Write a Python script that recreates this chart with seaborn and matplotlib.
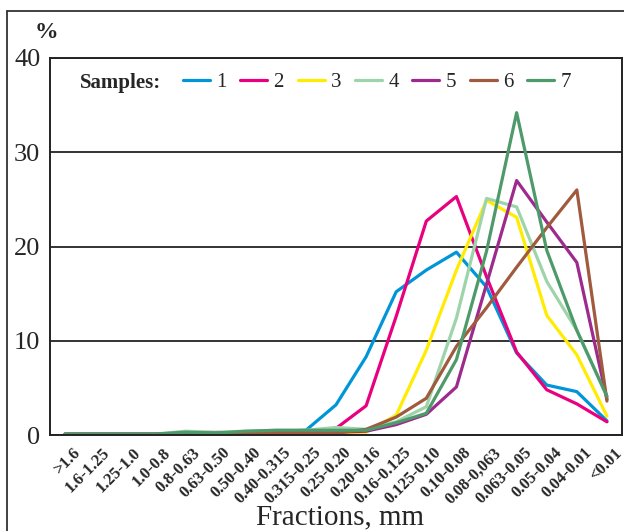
import matplotlib
matplotlib.use("Agg")
import matplotlib.pyplot as plt
from matplotlib.lines import Line2D
import matplotlib.transforms as mtransforms
import seaborn as sns
import pandas as pd
import numpy as np

categories = [">1.6", "1.6-1.25", "1.25-1.0", "1.0-0.8", "0.8-0.63", "0.63-0.50",
              "0.50-0.40", "0.40-0.315", "0.315-0.25", "0.25-0.20", "0.20-0.16",
              "0.16-0.125", "0.125-0.10", "0.10-0.08", "0.08-0,063", "0.063-0.05",
              "0.05-0.04", "0.04-0.01", "<0.01"]

s1 = [0.1, 0.1, 0.1, 0.1, 0.2, 0.2, 0.3, 0.4, 0.5, 3.2, 8.3, 15.2, 17.5, 19.4, 15.7, 8.7, 5.3, 4.6, 1.5]
s2 = [0.1, 0.1, 0.1, 0.1, 0.1, 0.1, 0.2, 0.2, 0.3, 0.7, 3.1, 12.6, 22.7, 25.3, 16.8, 8.8, 4.8, 3.3, 1.4]
s3 = [0.1, 0.1, 0.1, 0.1, 0.0, 0.0, 0.1, 0.1, 0.1, 0.2, 0.3, 2.1, 9.0, 17.5, 24.9, 23.1, 12.7, 8.5, 2.0]
s4 = [0.1, 0.1, 0.1, 0.1, 0.4, 0.3, 0.4, 0.5, 0.5, 0.8, 0.6, 1.4, 3.0, 12.4, 25.1, 24.2, 16.3, 11.1, 4.1]
s5 = [0.1, 0.1, 0.1, 0.1, 0.2, 0.2, 0.3, 0.3, 0.3, 0.3, 0.4, 1.1, 2.2, 5.1, 16.0, 27.0, 22.6, 18.3, 3.8]
s6 = [0.0, 0.0, 0.0, 0.0, 0.1, 0.0, 0.2, 0.2, 0.2, 0.2, 0.6, 1.9, 3.9, 9.4, 13.5, 17.8, 22.0, 26.0, 3.6]
s7 = [0.1, 0.1, 0.1, 0.1, 0.3, 0.2, 0.4, 0.5, 0.5, 0.5, 0.5, 1.3, 2.3, 8.0, 19.5, 34.2, 19.6, 11.1, 4.1]

sample_names = ["1", "2", "3", "4", "5", "6", "7"]
series = [s1, s2, s3, s4, s5, s6, s7]
colors = ["#0095D8", "#E8007F", "#FFEC00", "#9DD4A9", "#9E2A8E", "#A05A3E", "#4E9A6B"]
y_ticks = [0, 10, 20, 30, 40]

rows = []
for name, vals in zip(sample_names, series):
    for i, v in enumerate(vals):
        rows.append({"idx": i, "value": v, "sample": name})
df = pd.DataFrame(rows)

sns.set_style("white")
plt.rcParams["font.family"] = ["Liberation Serif", "DejaVu Serif"]

fig = plt.figure(figsize=(6.24, 5.31), dpi=100)
ax = fig.add_axes([50 / 624, 1 - 435 / 531, 572 / 624, 377 / 531])

sns.lineplot(data=df, x="idx", y="value", hue="sample", palette=colors,
             linewidth=2.3, ax=ax, legend=False)

ax.set_xlim(-0.5, len(categories) - 0.5)
ax.set_ylim(0, 40)
ax.set_yticks(y_ticks)
ax.set_yticklabels([str(t) for t in y_ticks], fontsize=19)
ax.yaxis.grid(True, color="#333333", linewidth=1.4)
ax.xaxis.grid(False)
ax.set_axisbelow(True)

ax.set_xticks(np.arange(len(categories)))
ax.set_xticklabels(categories, rotation=45, ha="right", va="top",
                   rotation_mode="anchor", fontsize=12, fontweight="bold")
ax.set_xticks(np.arange(len(categories) + 1) - 0.5, minor=True)
ax.tick_params(axis="x", which="major", length=0, pad=7)
ax.tick_params(axis="x", which="minor", length=6, width=1.2, color="#222222", direction="out")
ax.tick_params(axis="y", which="major", length=5, width=1.2, color="#222222", direction="out", pad=2)
offset = mtransforms.ScaledTranslation(7 / 100, 0, fig.dpi_scale_trans)
for lab in ax.get_xticklabels():
    lab.set_transform(lab.get_transform() + offset)

for sp in ax.spines.values():
    sp.set_color("#222222")
    sp.set_linewidth(1.4)
    sp.set_visible(True)

ax.set_xlabel("")
ax.set_ylabel("")
fig.text(340 / 624, 1 - 517 / 531, "Fractions, mm", fontsize=21, ha="center", va="center")

fig.text(35 / 624, 1 - 33 / 531, "%", fontsize=17, fontweight="bold", ha="left", va="center")

# legend
fig.text(80 / 624, 1 - 83 / 531, "Samples:", fontsize=15, fontweight="bold", ha="left", va="center")
handles = [Line2D([0], [0], color=c, linewidth=2.3) for c in colors]
leg = ax.legend(handles, sample_names, ncol=7, frameon=False, fontsize=15,
                handlelength=1.3, handletextpad=0.3, columnspacing=0.65,
                loc="center left", bbox_to_anchor=(183 / 624, 1 - 82 / 531),
                bbox_transform=fig.transFigure, borderaxespad=0, borderpad=0)

# outer frame (top and left edges)
fig.add_artist(Line2D([7 / 624, 7 / 624], [0, 1 - 11 / 531], transform=fig.transFigure,
                      color="#333333", linewidth=1.3))
fig.add_artist(Line2D([7 / 624, 1], [1 - 11 / 531, 1 - 11 / 531], transform=fig.transFigure,
                      color="#333333", linewidth=1.3))

fig.savefig("out.png", dpi=100)
